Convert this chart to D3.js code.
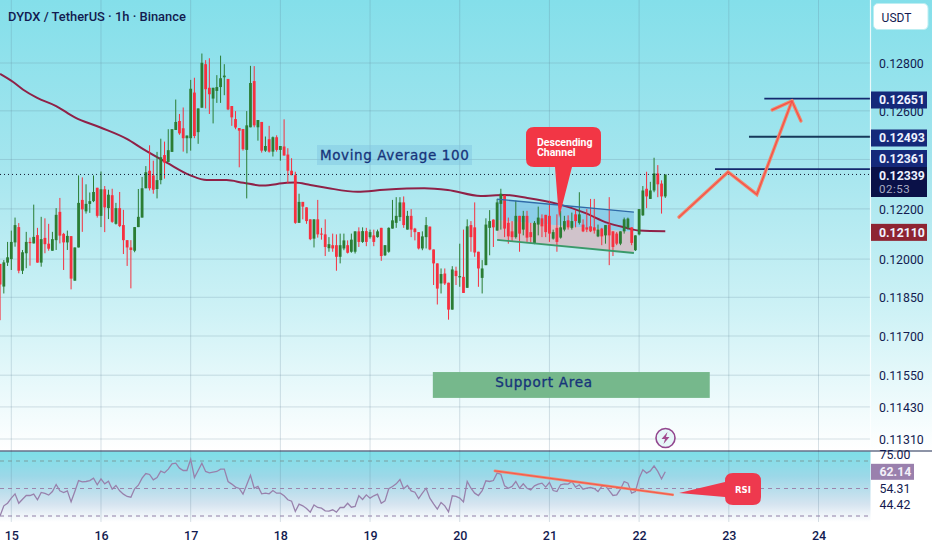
<!DOCTYPE html>
<html>
<head>
<meta charset="utf-8">
<script src="https://cdn.jsdelivr.net/npm/d3@7/dist/d3.min.js"></script>
<style>
html,body{margin:0;padding:0;background:#fff;overflow:hidden}
svg{display:block}
text{font-family:Roboto,sans-serif}
</style>
</head>
<body>
<div id="chart"></div>
<script>
// Prices below are quoted in units of 0.00001 USDT; candle index 0 = midnight of day 15, one candle per hour
const firstCandle = -3;
const opens = [11981,11892,11986,12000,12066,12127,11954,12023,12068,12062,12095,11986,12084,12061,12033,12075,12188,12100,12066,12091,11915,12046,12236,12190,12220,12231,12285,12172,12279,12203,12255,12140,12203,12135,12075,12046,12033,12127,12165,12283,12354,12335,12280,12316,12418,12390,12431,12521,12558,12528,12487,12487,12676,12512,12613,12795,12696,12651,12683,12699,12740,12733,12620,12566,12529,12525,12439,12532,12724,12532,12554,12436,12483,12432,12491,12439,12453,12420,12354,12336,12144,12228,12206,12158,
12081,12158,12101,12098,12043,12055,12055,12009,12042,12055,12029,12029,12110,12068,12111,12087,12094,12087,12124,12015,12029,12121,12144,12167,12226,12117,12172,12121,12107,12042,12087,12129,12038,11983,11904,11943,11907,11802,11954,11928,11930,11887,12135,12126,12029,11926,11976,12124,12157,12113,12220,12254,12144,12110,12087,12172,12117,12172,12107,12061,12137,12162,12176,12172,12081,12124,12085,12117,12154,12124,12178,12144,12137,12126,12130,12126,12090,12121,12094,12137,12110,12101,12061,12110,12124,12126,12035,12098,12174,12281,12240,12274,12343,12302,12250];
const highs = [11981,11996,12068,12113,12165,12143,12036,12108,12085,12217,12124,12168,12162,12140,12108,12203,12244,12104,12113,12091,12046,12335,12327,12299,12266,12335,12285,12351,12292,12277,12281,12224,12268,12196,12075,12075,12127,12280,12329,12373,12458,12395,12431,12485,12473,12524,12524,12647,12587,12614,12498,12729,12738,12610,12840,12812,12820,12696,12749,12831,12795,12733,12620,12599,12529,12525,12599,12788,12787,12562,12554,12494,12538,12494,12499,12455,12565,12446,12405,12350,12261,12228,12206,12158,
12158,12236,12124,12158,12087,12101,12098,12101,12101,12074,12101,12110,12126,12126,12124,12117,12117,12117,12124,12055,12126,12236,12247,12247,12250,12192,12199,12124,12107,12110,12167,12129,12038,11983,11963,11963,11907,11972,11970,12061,12117,12158,12151,12226,12029,11996,12162,12195,12158,12240,12281,12254,12165,12151,12233,12172,12192,12192,12144,12151,12209,12178,12176,12233,12117,12178,12192,12172,12174,12185,12195,12267,12158,12199,12240,12240,12137,12124,12135,12247,12110,12107,12110,12165,12165,12126,12094,12199,12292,12350,12309,12407,12377,12315,12336];
const lows = [11761,11865,11973,11957,12049,11944,11941,11964,11974,12062,11986,11970,12023,12033,12033,12036,12062,11957,12036,11881,11915,12046,12108,12181,12184,12227,12165,12127,12107,12159,12144,12137,12127,12020,11973,11885,12027,12127,12165,12283,12274,12261,12242,12299,12322,12390,12431,12521,12501,12432,12425,12436,12487,12464,12613,12610,12587,12548,12633,12633,12665,12603,12538,12524,12368,12436,12242,12532,12532,12477,12428,12431,12428,12412,12432,12395,12416,12302,12336,12140,12144,12158,12140,12075,
12046,12085,12077,12012,12029,12029,11954,11983,12035,12022,12025,12022,12048,12064,12051,12081,12051,12085,11993,12012,12025,12121,12124,12151,12124,12117,12087,12074,12038,12035,12042,12035,11898,11822,11865,11898,11763,11802,11898,11891,11867,11887,12029,12009,11891,11865,11976,12015,12048,12113,12117,12087,12061,12068,12081,12029,12094,12068,12064,12059,12094,12087,12087,12068,12077,12029,12081,12110,12117,12117,12126,12137,12107,12107,12107,12101,12087,12055,12061,11976,12012,12055,12055,12101,12117,12055,12032,12094,12172,12203,12240,12267,12247,12181,12244];
const closes = [11900,11987,12007,12068,12135,11954,12027,12068,12063,12088,11986,12079,12059,12041,12079,12176,12093,12066,12092,11923,12046,12224,12198,12220,12231,12268,12172,12279,12206,12257,12148,12203,12131,12075,12046,12036,12127,12168,12283,12348,12283,12277,12316,12409,12387,12438,12524,12554,12507,12487,12498,12692,12496,12610,12801,12690,12669,12696,12699,12736,12747,12606,12573,12531,12518,12442,12540,12716,12540,12562,12436,12455,12432,12491,12439,12455,12416,12354,12336,12144,12228,12209,12151,12079,
12158,12098,12097,12048,12059,12042,12009,12055,12074,12025,12077,12110,12068,12111,12068,12107,12068,12110,12012,12055,12124,12154,12172,12226,12135,12172,12117,12107,12042,12090,12135,12038,11983,11884,11941,11904,11802,11959,11933,11933,11867,12130,12087,12026,11963,11963,12137,12151,12126,12226,12261,12121,12090,12087,12172,12101,12172,12085,12087,12144,12165,12130,12107,12101,12107,12068,12126,12151,12126,12151,12151,12178,12110,12117,12110,12113,12117,12090,12135,12094,12048,12061,12110,12158,12161,12064,12094,12199,12274,12250,12274,12343,12299,12250,12339];
// 100-period moving average, sampled along the curve
const maIndex = [-3,0.5,3.2,6.8,12,17,23.7,30.9,35.3,41.6,47.8,52.3,57.6,62.1,67.4,73.7,75.9,80,84.6,92.6,99.8,110.5,116.8,125.6,131.9,138.1,146.2,153.3,159.6,164,168,175];
const maValues = [12754,12720,12688,12655,12620,12573,12532,12484,12442,12387,12336,12316,12316,12305,12294,12305,12306,12296,12284,12269,12277,12283,12276,12252,12256,12244,12220,12185,12144,12126,12113,12110];
// RSI, one reading per candle
const rsiValues = [30.1,37.4,39.3,43.0,46.1,39.3,42.2,44.9,44.9,45.9,41.8,47.1,46.4,45.2,47.8,52.9,48.3,47.1,48.3,40.3,47.8,55.8,54.8,55.1,55.8,57.5,52.7,57.0,53.4,55.3,49.5,52.2,48.3,45.9,44.2,43.7,49.8,52.4,57.5,60.9,60.2,56.3,58.0,62.6,61.4,64.1,67.9,68.4,64.8,63.1,63.1,71.3,58.0,63.1,68.4,62.4,61.4,61.9,62.4,64.1,64.1,55.1,53.2,51.0,50.0,45.9,52.7,59.7,50.2,51.5,46.1,46.6,46.1,48.5,46.6,46.6,44.7,41.8,40.8,33.3,38.6,37.4,35.5,32.8,38.1,36.2,35.7,33.8,33.5,34.5,32.8,36.2,36.2,39.3,36.4,36.9,44.7,42.0,45.4,43.0,44.7,45.9,39.3,41.0,49.8,51.5,53.4,56.5,49.8,52.2,48.3,47.3,42.7,46.6,50.2,43.0,38.8,35.0,39.8,37.4,33.0,44.7,44.2,43.0,40.3,55.1,
50.2,46.6,44.9,48.5,55.6,55.1,55.8,61.2,60.4,51.9,50.2,51.5,55.1,50.2,53.4,50.2,49.0,51.9,53.2,53.9,51.0,54.4,48.5,47.8,52.7,53.4,53.2,55.1,51.0,52.7,49.5,50.2,50.7,50.0,47.8,51.5,51.9,48.5,44.9,45.4,49.5,55.1,53.9,46.6,47.8,57.5,63.6,61.2,62.8,66.5,62.4,57.0,62.14];

const dayLabels = ["15","16","17","18","19","20","21","22","23","24"];
const hoursPerDay = 24;
const priceTicks = [0.128,0.126,0.122,0.120,0.1185,0.117,0.1155,0.1143,0.1131];
const gridPrices = [0.128,0.126,0.124,0.122,0.120,0.1185,0.117,0.1155,0.1143,0.1131];
const targetLevels = [0.12651,0.12493,0.12361];
const targetStart = [201.5,197.4,188.3];
const targetColors = ["#14296e","#16395a","#14296e"];
const targetLabelY = [100,138,158.5];
const lastPrice = 0.12339;
const countdown = "02:53";
const maLast = 0.12110;
const rsiLevels = [70,50,30];
const rsiLevelColors = ["#7a9ea0","#9a86ad","#8f7fa6"];
const rsiAxisLabels = ["75.00","54.31","44.42"];
const rsiLabelAnchors = [74.7,50,38.2];
const rsiLast = 62.14;
// Drawings, as [candle index, price]
const channelTop = [[130,12239],[166.6,12187]];
const channelMid = [[130,12155],[166.6,12107]];
const channelBottom = [[130,12076],[166.6,12024]];
const forecastPath = [[178.7,12167],[191.8,12349],[199.5,12258],[208.9,12641]];
const forecastHead = [[203.6,12604],[208.9,12641],[211.3,12558]];
const supportBox = {from:112.8,to:186.9,top:11562,bottom:11464};
const rsiTrend = [[129.4,62.8],[177,45.4]];

const W=932,H=550,plotRight=870.5,mainBottom=450.5,rsiTop=451.5,rsiBottom=522;
const navy="#131b50", up="#2b7d34", down="#f6303f";
const candles = opens.map((o,i)=>({i:i+firstCandle,o:o/1e5,h:highs[i]/1e5,l:lows[i]/1e5,c:closes[i]/1e5}));

const x = d3.scaleLinear().domain([0,216]).range([11.3,818.5]);
const y = d3.scaleLog().domain([0.128,0.1131]).range([63,439]);
const yr = d3.scaleLinear().domain([30,70]).range([516,461]);
const p5 = v=>y(v/1e5);

const svg=d3.select("#chart").append("svg").attr("width",W).attr("height",H).attr("viewBox",`0 0 ${W} ${H}`);
const defs=svg.append("defs");
function grad(id,stops){
  const g=defs.append("linearGradient").attr("id",id).attr("x1",0).attr("y1",0).attr("x2",0).attr("y2",1);
  stops.forEach(s=>g.append("stop").attr("offset",s[0]).attr("stop-color",s[1]));
}
grad("bgMain",[[0,"#84dfea"],[0.35,"#a3e5ee"],[0.7,"#cff2f6"],[1,"#ffffff"]]);
grad("bgRsi",[[0,"#7ddfe8"],[0.35,"#9cd8e8"],[0.75,"#d6e4f0"],[1,"#ffffff"]]);

svg.append("rect").attr("width",W).attr("height",H).attr("fill","#fff");
svg.append("rect").attr("width",W).attr("y",0).attr("height",mainBottom).attr("fill","url(#bgMain)");
svg.append("rect").attr("width",plotRight).attr("y",rsiTop).attr("height",rsiBottom-rsiTop).attr("fill","url(#bgRsi)");

// grid
const grid=svg.append("g").attr("stroke","#5d7f92").attr("stroke-opacity",0.24).attr("stroke-width",1);
grid.selectAll("line.h").data(gridPrices).join("line").attr("class","h")
  .attr("x1",0).attr("x2",plotRight).attr("y1",d=>y(d)).attr("y2",d=>y(d));
grid.selectAll("line.v").data(dayLabels).join("line").attr("class","v")
  .attr("x1",(d,i)=>x(i*hoursPerDay)).attr("x2",(d,i)=>x(i*hoursPerDay)).attr("y1",0).attr("y2",rsiBottom);

// channel
const area=(a,b)=>a.map(d=>[x(d[0]),p5(d[1])]).concat(b.slice().reverse().map(d=>[x(d[0]),p5(d[1])]));
svg.append("polygon").attr("points",area(channelTop,channelMid).join(" ")).attr("fill","#7fc4e6").attr("fill-opacity",0.75);
svg.append("polygon").attr("points",area(channelMid,channelBottom).join(" ")).attr("fill","#d6b9c0").attr("fill-opacity",0.8);
const ln=d3.line().x(d=>x(d[0])).y(d=>p5(d[1]));

// MA
svg.append("path").attr("fill","none").attr("stroke","#8f2147").attr("stroke-width",2).attr("stroke-linejoin","round")
  .attr("d",d3.line().curve(d3.curveMonotoneX).x(d=>x(d[0])).y(d=>p5(d[1]))(maIndex.map((m,i)=>[m,maValues[i]])));

// candles
const cg=svg.append("g");
cg.selectAll("line").data(candles).join("line")
  .attr("x1",d=>x(d.i)).attr("x2",d=>x(d.i)).attr("y1",d=>y(d.h)).attr("y2",d=>y(d.l))
  .attr("stroke",d=>d.c>=d.o?up:down).attr("stroke-width",1);
cg.selectAll("rect").data(candles).join("rect")
  .attr("x",d=>x(d.i)-1.4).attr("width",2.8)
  .attr("y",d=>y(Math.max(d.o,d.c))).attr("height",d=>Math.max(1,y(Math.min(d.o,d.c))-y(Math.max(d.o,d.c))))
  .attr("fill",d=>d.c>=d.o?up:down);

// channel border lines
svg.append("path").attr("d",ln(channelTop)).attr("fill","none").attr("stroke","#2f6aa8").attr("stroke-width",1.4);
svg.append("path").attr("d",ln(channelBottom)).attr("fill","none").attr("stroke","#3a9a6a").attr("stroke-width",1.8);

// last price dotted
svg.append("line").attr("x1",0).attr("x2",plotRight).attr("y1",y(lastPrice)).attr("y2",y(lastPrice))
  .attr("stroke","#10162f").attr("stroke-width",1).attr("stroke-dasharray","1 3");

// MA label
const maLabel=svg.append("g");
maLabel.append("rect").attr("x",317).attr("y",145).attr("width",155).attr("height",20).attr("fill","#7fc4e0").attr("fill-opacity",0.45);
maLabel.append("text").attr("x",320).attr("y",160).attr("letter-spacing",0.6).attr("fill","#17347a").attr("stroke","#17347a").attr("stroke-width",0.3).style("font-family","'DejaVu Sans',sans-serif").attr("font-size",13.5).text("Moving Average 100");

// Support
svg.append("rect").attr("x",x(supportBox.from)).attr("width",x(supportBox.to)-x(supportBox.from))
  .attr("y",p5(supportBox.top)).attr("height",p5(supportBox.bottom)-p5(supportBox.top)).attr("fill","#76b88c");
svg.append("text").attr("x",544).attr("y",386.5).attr("text-anchor","middle").attr("font-size",13.5).attr("letter-spacing",0.75)
  .attr("fill","#17347a").attr("stroke","#17347a").attr("stroke-width",0.35).style("font-family","'DejaVu Sans',sans-serif").text("Support Area");

// target levels
svg.selectAll("line.target").data(targetLevels).join("line").attr("class","target")
  .attr("x1",(d,i)=>x(targetStart[i])).attr("x2",plotRight).attr("y1",d=>y(d)).attr("y2",d=>y(d))
  .attr("stroke",(d,i)=>targetColors[i]).attr("stroke-width",1.8);

// forecast arrow
const farrow=svg.append("g").attr("fill","none").attr("stroke-linejoin","miter").attr("stroke-linecap","round");
[[ "#f2866a",3.4 ],[ "#f4504a",1.2 ]].forEach(s=>{
  farrow.append("path").attr("d",ln(forecastPath)).attr("stroke",s[0]).attr("stroke-width",s[1]);
  farrow.append("path").attr("d",ln(forecastHead)).attr("stroke",s[0]).attr("stroke-width",s[1]);
});

// Descending callout
const red="#f23645";
svg.append("path").attr("fill",red).attr("d",
 "M534 127 H593 Q601 127 601 135 V159 Q601 167 593 167 H572 L559 218 L555 167 H534 Q526 167 526 159 V135 Q526 127 534 127 Z");
const ct=svg.append("text").attr("fill","#fff").attr("font-size",10.5).attr("font-weight",700).style("font-family","Roboto,sans-serif");
ct.append("tspan").attr("x",537).attr("y",145.5).text("Descending");
ct.append("tspan").attr("x",537).attr("y",155.5).text("Channel");

// lightning icon
const icon=svg.append("g").attr("transform","translate(665.5,438)");
icon.append("circle").attr("r",9.5).attr("fill","#e6f6f8").attr("stroke","#92478f").attr("stroke-width",1.6);
icon.append("path").attr("d","M2 -6 L-4 1 L-0.5 1 L-2 6 L4 -1 L0.5 -1 Z").attr("fill","#a24a8f");

// price axis
const ax=svg.append("g").attr("transform",`translate(${plotRight+8.5},0.5)`)
  .call(d3.axisRight(y).tickValues(priceTicks).tickFormat(d3.format(".5f")).tickSize(0).tickPadding(0));
ax.select(".domain").remove();
ax.selectAll("text").attr("font-size",12.3).attr("letter-spacing",0).attr("fill",navy).style("font-family","Roboto,sans-serif");
svg.append("line").attr("x1",plotRight).attr("x2",plotRight).attr("y1",0).attr("y2",mainBottom).attr("stroke","#fff").attr("stroke-opacity",0.8).attr("stroke-width",1.2);

// USDT chip
svg.append("rect").attr("x",873.5).attr("y",3.5).attr("width",54.5).attr("height",26).attr("rx",4.5).attr("fill","#fff").attr("stroke","#bdeef2");
svg.append("text").attr("x",896.5).attr("y",21.5).attr("text-anchor","middle").attr("font-size",12).attr("font-weight",400).attr("fill",navy).text("USDT");

// price tags
const tagFont={size:12.3};
function tag(top,h,fill,label,right){
  svg.append("rect").attr("x",871).attr("y",top).attr("width",(right||927)-871).attr("height",h).attr("fill",fill);
  svg.append("text").attr("x",879).attr("y",top+12.8).attr("font-size",tagFont.size).attr("font-weight",700).attr("fill","#eef2ff").text(label);
}
targetLevels.forEach((v,i)=>tag(targetLabelY[i]-8.5,17,"#15297a",d3.format(".5f")(v)));
tag(167,30,"#0a1148",d3.format(".5f")(lastPrice));
svg.append("text").attr("x",879).attr("y",193).attr("font-size",11.5).attr("letter-spacing",0.5).attr("fill","#a9acc4").text(countdown);
tag(y(maLast)-7.5,17,"#8e2432",d3.format(".5f")(maLast));

// RSI pane
const rsiG=svg.append("g");
rsiG.selectAll("line.lv").data(rsiLevels).join("line").attr("class","lv")
  .attr("x1",0).attr("x2",plotRight-1).attr("y1",d=>yr(d)).attr("y2",d=>yr(d))
  .attr("stroke",(d,i)=>rsiLevelColors[i]).attr("stroke-width",1).attr("stroke-dasharray","4 4");
rsiG.append("path").attr("fill","none").attr("stroke","#9881ac").attr("stroke-width",1.3)
  .attr("d",d3.line().x((d,i)=>x(i+firstCandle)).y(d=>yr(d))(rsiValues));
svg.append("line").attr("x1",0).attr("x2",W).attr("y1",mainBottom+0.5).attr("y2",mainBottom+0.5).attr("stroke","#1c2a50").attr("stroke-width",1.2);
const rt=svg.append("g").attr("fill","none").attr("stroke-linecap","round");
[["#f2866a",2.6],["#f4504a",0.9]].forEach(s=>rt.append("path").attr("stroke",s[0]).attr("stroke-width",s[1])
  .attr("d",d3.line().x(d=>x(d[0])).y(d=>yr(d[1]))(rsiTrend)));
// RSI callout
svg.append("path").attr("fill","#ee394e").attr("d",
 "M733 473 H753 Q761 473 761 481 V497 Q761 505 753 505 H733 Q725 505 725 497 V497 L679 493 L725 482 V481 Q725 473 733 473 Z");
svg.append("text").attr("x",743).attr("y",492.5).attr("text-anchor","middle").attr("fill","#fff").attr("font-size",8.5).attr("font-weight",700).style("font-family","'DejaVu Sans',sans-serif").text("RSI");

// RSI labels
rsiAxisLabels.forEach((t,i)=>{
  svg.append("text").attr("x",879.5).attr("y",yr(rsiLabelAnchors[i])+4.4).attr("font-size",12.3).attr("fill",navy).text(t);
});
svg.append("rect").attr("x",871).attr("y",yr(rsiLast)-8).attr("width",43).attr("height",16).attr("fill","#9a80ad");
svg.append("text").attr("x",879.5).attr("y",yr(rsiLast)+4.4).attr("font-size",12.3).attr("font-weight",700).attr("fill","#f3eff8").text(d3.format(".2f")(rsiLast));

// time axis
const tax=svg.append("g").attr("transform","translate(0,531.5)")
  .call(d3.axisBottom(x).tickValues(dayLabels.map((d,i)=>i*hoursPerDay)).tickFormat((d,i)=>dayLabels[i]).tickSize(0).tickPadding(0));
tax.select(".domain").remove();
tax.selectAll("text").attr("font-size",12.5).attr("font-weight",500).attr("fill",navy).style("font-family","Roboto,sans-serif");

// title
svg.append("text").attr("x",8).attr("y",20.5).attr("font-size",12.9).attr("font-weight",500).attr("fill",navy).text("DYDX / TetherUS · 1h · Binance");
</script>
</body>
</html>
